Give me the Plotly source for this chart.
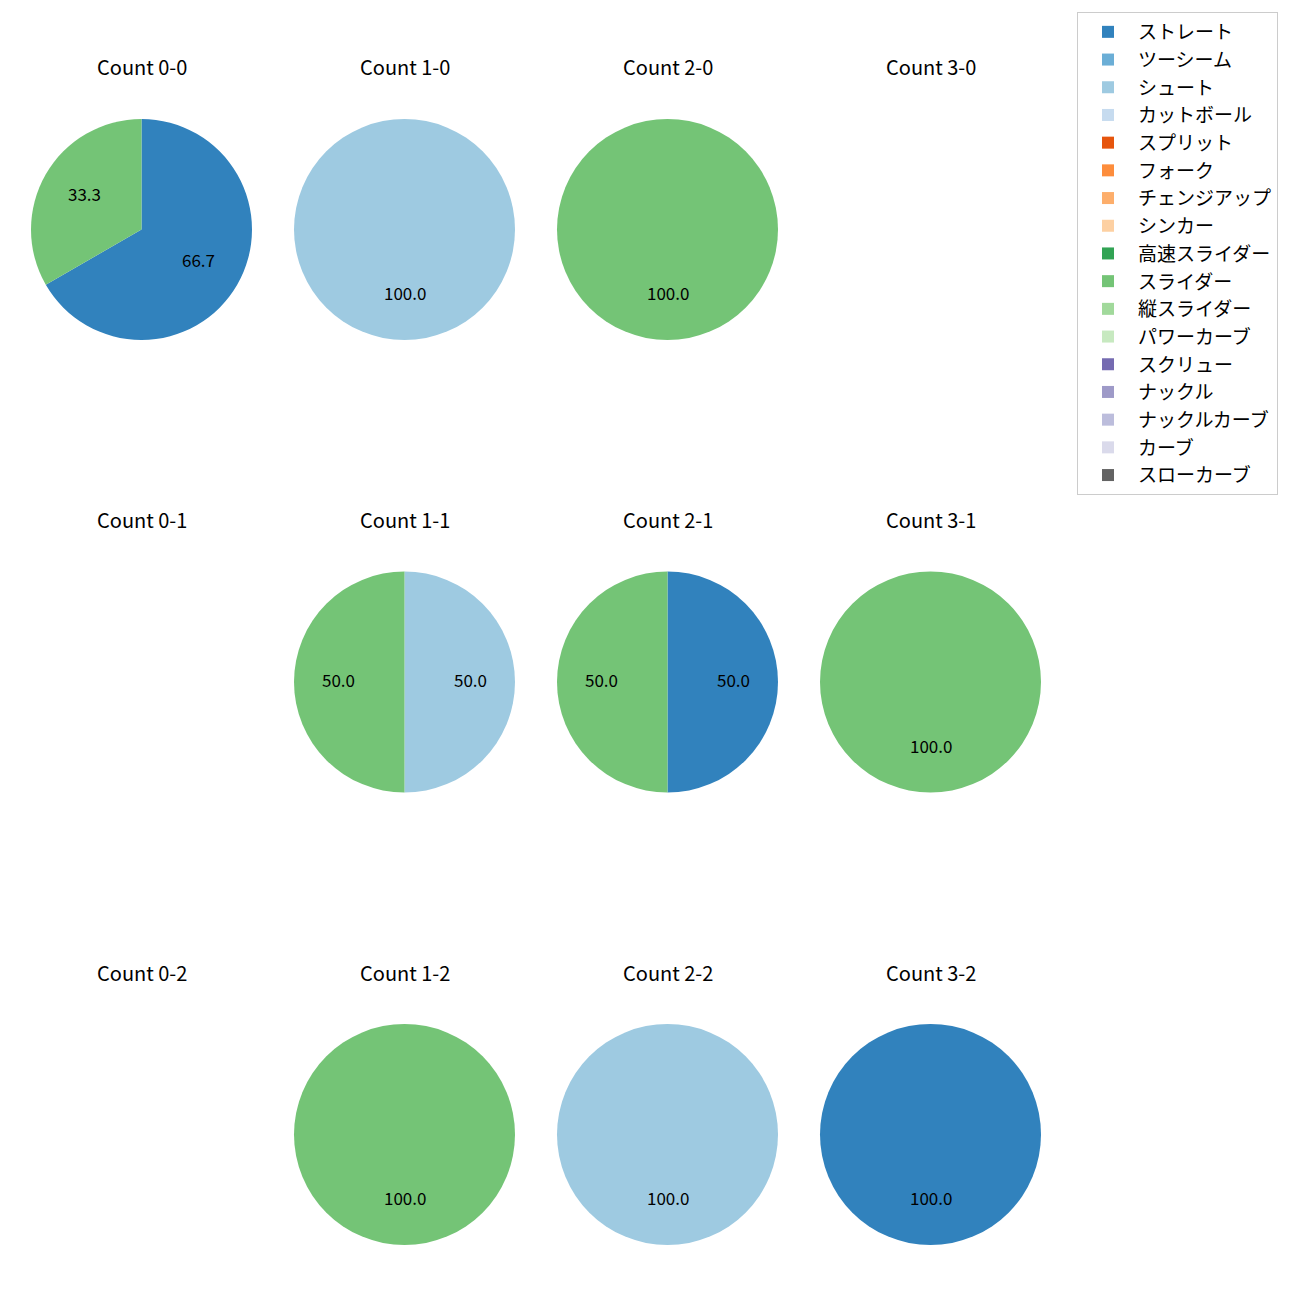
import math
import plotly.graph_objects as go

pitch_types = ["ストレート", "ツーシーム", "シュート", "カットボール", "スプリット", "フォーク",
               "チェンジアップ", "シンカー", "高速スライダー", "スライダー", "縦スライダー",
               "パワーカーブ", "スクリュー", "ナックル", "ナックルカーブ", "カーブ", "スローカーブ"]
pitch_colors = ["#3182bd", "#6baed6", "#9ecae1", "#c6dbef", "#e6550d", "#fd8d3c",
                "#fdae6b", "#fdd0a2", "#31a354", "#74c476", "#a1d99b", "#c7e9c0",
                "#756bb1", "#9e9ac8", "#bcbddc", "#dadaeb", "#636363"]

balls = [0, 1, 2, 3]
strikes = [0, 1, 2]

# counts per pitch type for each ball-strike count (only non-zero entries)
count_data = {
    (0, 0): {"ストレート": 2, "スライダー": 1},
    (1, 0): {"シュート": 1},
    (2, 0): {"スライダー": 1},
    (3, 0): {},
    (0, 1): {},
    (1, 1): {"シュート": 1, "スライダー": 1},
    (2, 1): {"ストレート": 1, "スライダー": 1},
    (3, 1): {"スライダー": 1},
    (0, 2): {},
    (1, 2): {"スライダー": 1},
    (2, 2): {"シュート": 1},
    (3, 2): {"ストレート": 1},
}

W = H = 1300
OFF = 8  # page body margin offset
col_cx = [141.5 - OFF, 404.5 - OFF, 667.5 - OFF, 930.5 - OFF]
row_cy = [229.5 - OFF, 682.0 - OFF, 1134.5 - OFF]
R = 110.5
FONT = "Noto Sans CJK JP"

fig = go.Figure()
annotations = []
for si, s in enumerate(strikes):
    for bi, b in enumerate(balls):
        cx, cy = col_cx[bi], row_cy[si]
        annotations.append(dict(
            x=cx / W, y=1 - (cy - R - 52) / H, xref="paper", yref="paper",
            text=f"Count {b}-{s}", showarrow=False, xanchor="center", yanchor="middle",
            font=dict(family=FONT, size=20, color="#000000")))
        d = count_data[(b, s)]
        vals = [d.get(p, 0) for p in pitch_types]
        total = sum(vals)
        if total == 0:
            continue
        dom_x = [(cx - R) / W, (cx + R) / W]
        dom_y = [1 - (cy + R) / H, 1 - (cy - R) / H]
        fig.add_trace(go.Pie(
            labels=pitch_types, values=vals, sort=False, direction="clockwise",
            rotation=0, marker=dict(colors=pitch_colors, line=dict(width=0)),
            textinfo="none", domain=dict(x=dom_x, y=dom_y),
            showlegend=True, hoverinfo="label+percent"))
        cum = 0
        for v in vals:
            if v == 0:
                continue
            mid = 90 - 360 * (cum + v / 2) / total
            cum += v
            px = cx + 0.6 * R * math.cos(math.radians(mid))
            py = cy - 0.6 * R * math.sin(math.radians(mid))
            annotations.append(dict(
                x=px / W, y=1 - py / H, xref="paper", yref="paper",
                text=f"{100 * v / total:.1f}", showarrow=False,
                xanchor="center", yanchor="middle", yshift=3,
                font=dict(family=FONT, size=17, color="#000000")))

fig.update_layout(
    width=W, height=H, margin=dict(l=0, r=0, t=0, b=0),
    paper_bgcolor="white", plot_bgcolor="white",
    annotations=annotations,
    font=dict(family=FONT),
    legend=dict(x=(1077 - OFF) / W, y=1 - (12 - OFF) / H, xanchor="left", yanchor="top",
                bordercolor="#cccccc", borderwidth=1, bgcolor="white",
                itemwidth=50,
                font=dict(family=FONT, size=19, color="#000000")),
)
fig.write_html("out.html")
